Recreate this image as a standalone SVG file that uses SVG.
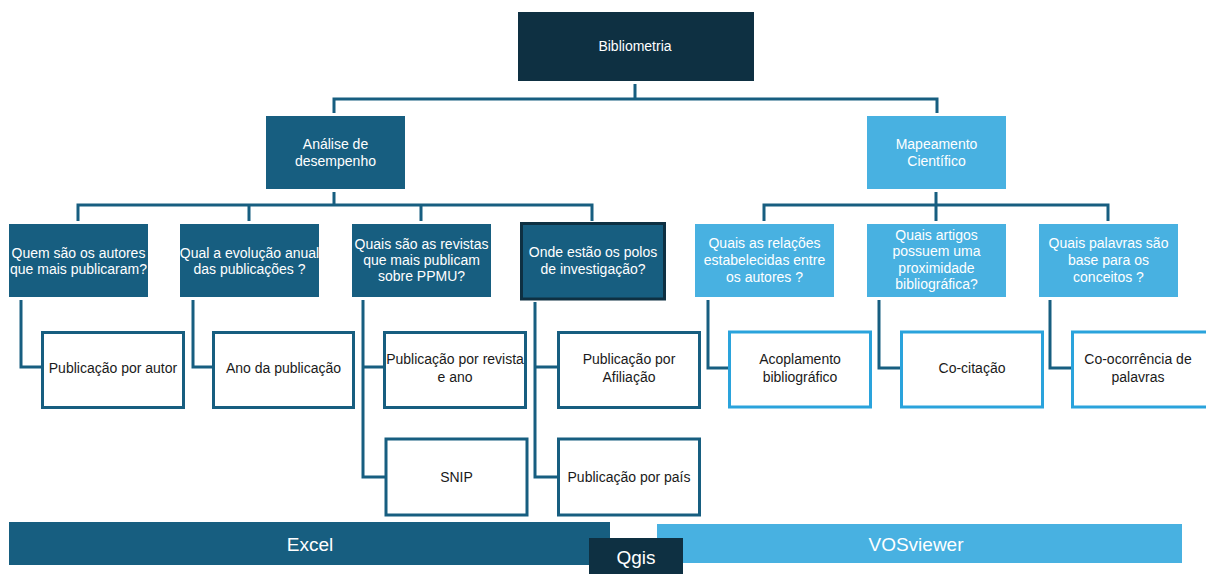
<svg xmlns="http://www.w3.org/2000/svg" width="1206" height="574" viewBox="0 0 1206 574">
<style>
text{font-family:"Liberation Sans",Arial,sans-serif;font-size:14px;text-anchor:middle}
.w{fill:#ffffff}
.k{fill:#1a1a1a}
.navy{fill:#0e3042}
.mid{fill:#175e80}
.light{fill:#48b1e1}
.bmid{fill:#ffffff;stroke:#175e80;stroke-width:3}
.blight{fill:#ffffff;stroke:#2aa3dc;stroke-width:3}
.conn{fill:none;stroke:#175e80;stroke-width:3}
.big{font-size:19px}
</style>
<g id="connectors">
<path class="conn" d="M635,84 V99 M334,113 V99 H937 V113"/>
<path class="conn" d="M334,192 V205 M78,221 V205 H592 V221 M249,205 V221 M421,205 V221"/>
<path class="conn" d="M936,192 V221 M764,221 V205 H1108 V221"/>
<path class="conn" d="M21,300 V367 H41 M193,300 V367 H212 M363,300 V477 H385 M363,367 H383 M535,302 V477 H557 M535,367 H557"/>
<path class="conn" d="M708,300 V368 H728 M879,300 V368 H900 M1050,300 V368 H1071"/>
</g>
<g id="bibliometria"><rect class="navy" x="518" y="12" width="236" height="69"/><text class="w" x="635" y="51">Bibliometria</text></g>
<g id="analise"><rect class="mid" x="266" y="116" width="139" height="73"/><text class="w" x="335.5" y="149">Análise de</text><text class="w" x="335.5" y="166">desempenho</text></g>
<g id="mapeamento"><rect class="light" x="867" y="116" width="139" height="73"/><text class="w" x="936.5" y="149">Mapeamento</text><text class="w" x="936.5" y="166">Científico</text></g>
<g id="q-autores"><rect class="mid" x="9" y="224" width="139" height="73"/><text class="w" x="78.5" y="258">Quem são os autores</text><text class="w" x="78.5" y="274">que mais publicaram?</text></g>
<g id="q-evolucao"><rect class="mid" x="180" y="224" width="139" height="73"/><text class="w" x="249.5" y="258">Qual a evolução anual</text><text class="w" x="249.5" y="274">das publicações ?</text></g>
<g id="q-revistas"><rect class="mid" x="352" y="224" width="139" height="73"/><text class="w" x="421.5" y="249">Quais são as revistas</text><text class="w" x="421.5" y="265">que mais publicam</text><text class="w" x="421.5" y="281">sobre PPMU?</text></g>
<g id="q-polos"><rect class="mid" x="521.5" y="223.5" width="143" height="75.5" stroke="#0e3042" stroke-width="3"/><text class="w" x="593" y="257">Onde estão os polos</text><text class="w" x="593" y="274">de investigação?</text></g>
<g id="q-relacoes"><rect class="light" x="695" y="224" width="139" height="73"/><text class="w" x="764.5" y="248">Quais as relações</text><text class="w" x="764.5" y="265">estabelecidas entre</text><text class="w" x="764.5" y="282">os autores ?</text></g>
<g id="q-artigos"><rect class="light" x="867" y="224" width="139" height="73"/><text class="w" x="936.5" y="240">Quais artigos</text><text class="w" x="936.5" y="256">possuem uma</text><text class="w" x="936.5" y="273">proximidade</text><text class="w" x="936.5" y="289">bibliográfica?</text></g>
<g id="q-palavras"><rect class="light" x="1039" y="224" width="139" height="73"/><text class="w" x="1108.5" y="248">Quais palavras são</text><text class="w" x="1108.5" y="265">base para os</text><text class="w" x="1108.5" y="282">conceitos ?</text></g>
<g id="m-autor"><rect class="bmid" x="42.5" y="332.5" width="141" height="75"/><text class="k" x="113" y="373">Publicação por autor</text></g>
<g id="m-ano"><rect class="bmid" x="213.5" y="332.5" width="140" height="75"/><text class="k" x="283.5" y="373">Ano da publicação</text></g>
<g id="m-revista"><rect class="bmid" x="384.5" y="332.5" width="141" height="75"/><text class="k" x="455" y="364">Publicação por revista</text><text class="k" x="455" y="382">e ano</text></g>
<g id="m-afiliacao"><rect class="bmid" x="558.5" y="332.5" width="141" height="75"/><text class="k" x="629" y="364">Publicação por</text><text class="k" x="629" y="382">Afiliação</text></g>
<g id="m-snip"><rect class="bmid" x="386" y="439" width="141" height="76"/><text class="k" x="456.5" y="482">SNIP</text></g>
<g id="m-pais"><rect class="bmid" x="558.5" y="439" width="141" height="76"/><text class="k" x="629" y="482">Publicação por país</text></g>
<g id="m-acoplamento"><rect class="blight" x="729.5" y="332" width="141" height="75"/><text class="k" x="800" y="364">Acoplamento</text><text class="k" x="800" y="382">bibliográfico</text></g>
<g id="m-cocitacao"><rect class="blight" x="901.5" y="332" width="141" height="75"/><text class="k" x="972" y="373">Co-citação</text></g>
<g id="m-coocorrencia"><rect class="blight" x="1072.5" y="332" width="141" height="75"/><text class="k" x="1138" y="364">Co-ocorrência de</text><text class="k" x="1138" y="382">palavras</text></g>
<g id="excel"><rect class="mid" x="9" y="522" width="601" height="43"/><text class="w big" x="310" y="551">Excel</text></g>
<g id="vosviewer"><rect class="light" x="657" y="524" width="525" height="39"/><text class="w big" x="916" y="551">VOSviewer</text></g>
<g id="qgis"><rect class="navy" x="589" y="538" width="94" height="40"/><text class="w big" x="636" y="564">Qgis</text></g>
</svg>
